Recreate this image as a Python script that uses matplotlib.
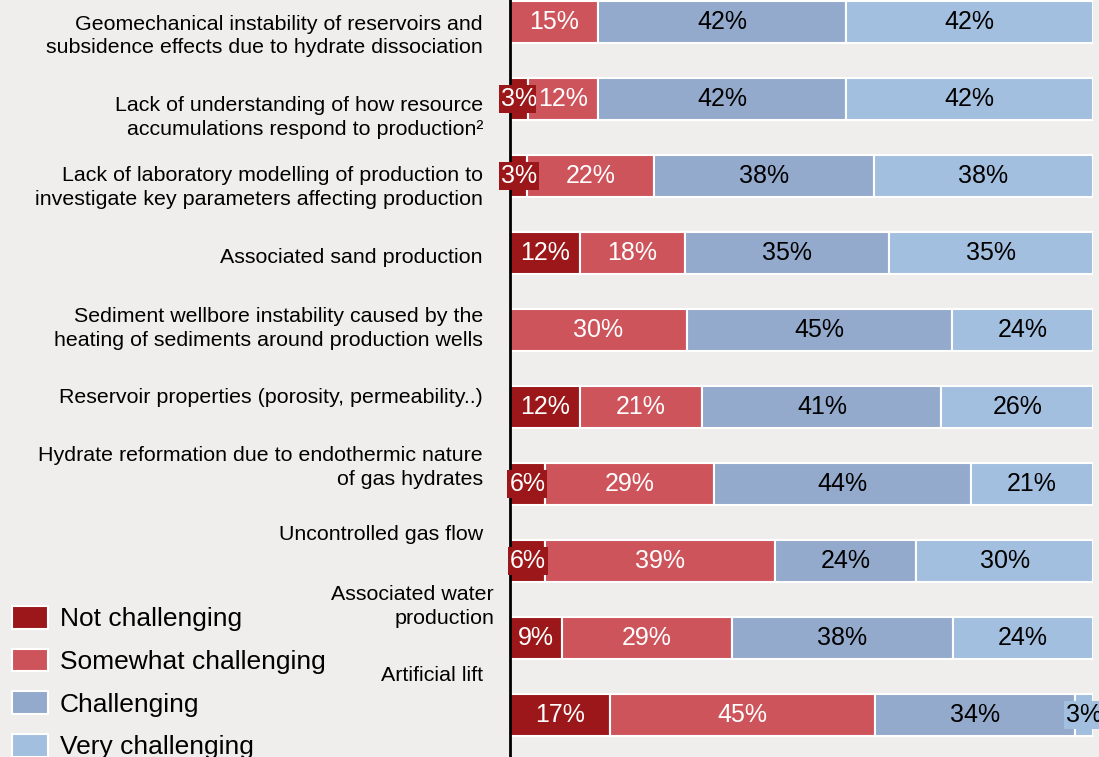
import matplotlib
matplotlib.use("Agg")
import matplotlib.pyplot as plt
import matplotlib.transforms as mtransforms
import numpy as np

plt.rcParams['font.family'] = ['Liberation Sans', 'DejaVu Sans']

categories = [
    "Geomechanical instability of reservoirs and\nsubsidence effects due to hydrate dissociation",
    "Lack of understanding of how resource\naccumulations respond to production\u00b2",
    "Lack of laboratory modelling of production to\ninvestigate key parameters affecting production",
    "Associated sand production",
    "Sediment wellbore instability caused by the\nheating of sediments around production wells",
    "Reservoir properties (porosity, permeability..)",
    "Hydrate reformation due to endothermic nature\nof gas hydrates",
    "Uncontrolled gas flow",
    "Associated water\nproduction",
    "Artificial lift",
]
series_names = ["Not challenging", "Somewhat challenging", "Challenging", "Very challenging"]
not_challenging = [0, 3, 3, 12, 0, 12, 6, 6, 9, 17]
somewhat = [15, 12, 22, 18, 30, 21, 29, 39, 29, 45]
challenging = [42, 42, 38, 35, 45, 41, 44, 24, 38, 34]
very = [42, 42, 38, 35, 24, 26, 21, 30, 24, 3]

colors = ["#9b171a", "#ce545c", "#94aacc", "#a3bfdf"]
text_colors = ["white", "white", "black", "black"]
bg = "#efeeec"

# layout: label vertical offsets (in row units) and x position (px)
label_dy = [0.18, 0.24, 0.15, 0.06, -0.02, -0.12, -0.215, -0.34, -0.41, -0.51]
label_x = [483, 483, 483, 483, 483, 483, 483, 483, 494, 483]

W, H = 1099, 757
fig = plt.figure(figsize=(W / 100, H / 100), dpi=100, facecolor=bg)
ax = fig.add_axes([510 / W, 0, 583 / W, 1])
ax.set_facecolor(bg)

data = np.array([not_challenging, somewhat, challenging, very], dtype=float)
totals = data.sum(axis=0)
shares = data / totals * 100
y = np.arange(len(categories))
lefts = np.zeros(len(categories))
containers = []
for k in range(4):
    c = ax.barh(y, shares[k], left=lefts, height=0.545, color=colors[k],
                edgecolor="white", linewidth=1.5, label=series_names[k], zorder=2)
    containers.append(c)
    for i in range(len(categories)):
        v = data[k, i]
        if v > 0:
            cx = lefts[i] + shares[k, i] / 2
            ax.text(cx, y[i], f"{int(v)}%", ha="center", va="center", fontsize=18,
                    color=text_colors[k], zorder=4, clip_on=False,
                    bbox=dict(boxstyle="square,pad=0.08", facecolor=colors[k],
                              edgecolor="none"))
    lefts = lefts + shares[k]

ax.set_xlim(0, 100)
ax.set_ylim(9 + 42 / 77, -22 / 77)
for s in ["top", "right", "bottom"]:
    ax.spines[s].set_visible(False)
ax.spines["left"].set_linewidth(2)
ax.spines["left"].set_color("black")
ax.spines["left"].set_zorder(3)
ax.set_xticks([])
ax.set_yticks([])

trans = mtransforms.blended_transform_factory(fig.transFigure, ax.transData)
for i, lab in enumerate(categories):
    ax.text(label_x[i] / W, y[i] + label_dy[i], lab, transform=trans, ha="right",
            va="center", fontsize=15.4, linespacing=1.28, color="black", clip_on=False)

fig.legend(handles=containers, labels=series_names, loc="upper left",
           bbox_to_anchor=(12 / W, 1 - 606 / H), frameon=False, fontsize=19,
           handlelength=1.36, handleheight=0.95, handletextpad=0.45,
           labelspacing=0.65, borderaxespad=0, borderpad=0)

fig.savefig("out.png", dpi=100, facecolor=bg)
